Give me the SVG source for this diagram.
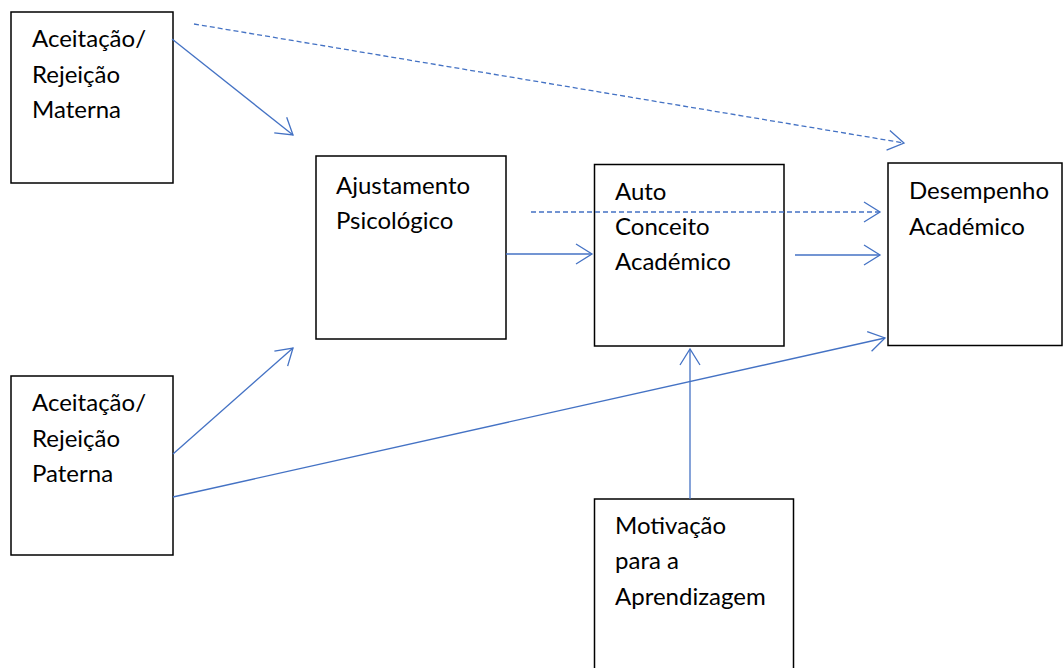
<svg xmlns="http://www.w3.org/2000/svg" width="1063" height="668" viewBox="0 0 1063 668">
  <style>
    .box { fill: #ffffff; stroke: #000000; stroke-width: 1.5; }
    .lbl { font-family: Lato, "Open Sans", "Liberation Sans", sans-serif; font-size: 24px; fill: #000000; }
    .link { fill: none; stroke: #4472C4; stroke-width: 1.3; marker-end: url(#open); }
    .dash { stroke-dasharray: 5 3; }
  </style>
  <defs>
    <marker id="open" markerUnits="userSpaceOnUse" markerWidth="20" markerHeight="24" viewBox="-18 -12 20 24" refX="0" refY="0" orient="auto">
      <path d="M-16,-10 L0,0 L-16,10" fill="none" stroke="#4472C4" stroke-width="1.3"/>
    </marker>
  </defs>
  <rect width="1063" height="668" fill="#ffffff"/>

  <g id="materna">
    <rect class="box" x="11" y="12" width="162" height="171"/>
    <text class="lbl" x="32" y="47">Aceitação/</text>
    <text class="lbl" x="32" y="83">Rejeição</text>
    <text class="lbl" x="32" y="118">Materna</text>
  </g>

  <g id="ajustamento">
    <rect class="box" x="316" y="156" width="190" height="183"/>
    <text class="lbl" x="336" y="194">Ajustamento</text>
    <text class="lbl" x="336" y="229">Psicológico</text>
  </g>

  <g id="autoconceito">
    <rect class="box" x="594.5" y="164.5" width="189.5" height="181.5"/>
    <text class="lbl" x="615" y="200">Auto</text>
    <text class="lbl" x="615" y="235">Conceito</text>
    <text class="lbl" x="615" y="270">Académico</text>
  </g>

  <g id="desempenho">
    <rect class="box" x="888" y="163" width="174" height="182.5"/>
    <text class="lbl" x="909" y="199">Desempenho</text>
    <text class="lbl" x="909" y="235">Académico</text>
  </g>

  <g id="paterna">
    <rect class="box" x="11" y="376" width="162" height="179"/>
    <text class="lbl" x="32" y="411">Aceitação/</text>
    <text class="lbl" x="32" y="447">Rejeição</text>
    <text class="lbl" x="32" y="482">Paterna</text>
  </g>

  <g id="motivacao">
    <rect class="box" x="594.5" y="499" width="199" height="180"/>
    <text class="lbl" x="615" y="534">Motivação</text>
    <text class="lbl" x="615" y="569">para a</text>
    <text class="lbl" x="615" y="605">Aprendizagem</text>
  </g>

  <g id="connectors">
    <line class="link dash" x1="194" y1="24" x2="904" y2="143"/>
    <line class="link" x1="172" y1="39" x2="293" y2="135"/>
    <line class="link dash" x1="531" y1="212" x2="880" y2="212"/>
    <line class="link" x1="506" y1="254" x2="592" y2="254"/>
    <line class="link" x1="795" y1="255" x2="880" y2="255"/>
    <line class="link" x1="173" y1="454" x2="293" y2="348"/>
    <line class="link" x1="173" y1="497" x2="885" y2="338"/>
    <line class="link" x1="690" y1="499" x2="690" y2="349"/>
  </g>
</svg>
